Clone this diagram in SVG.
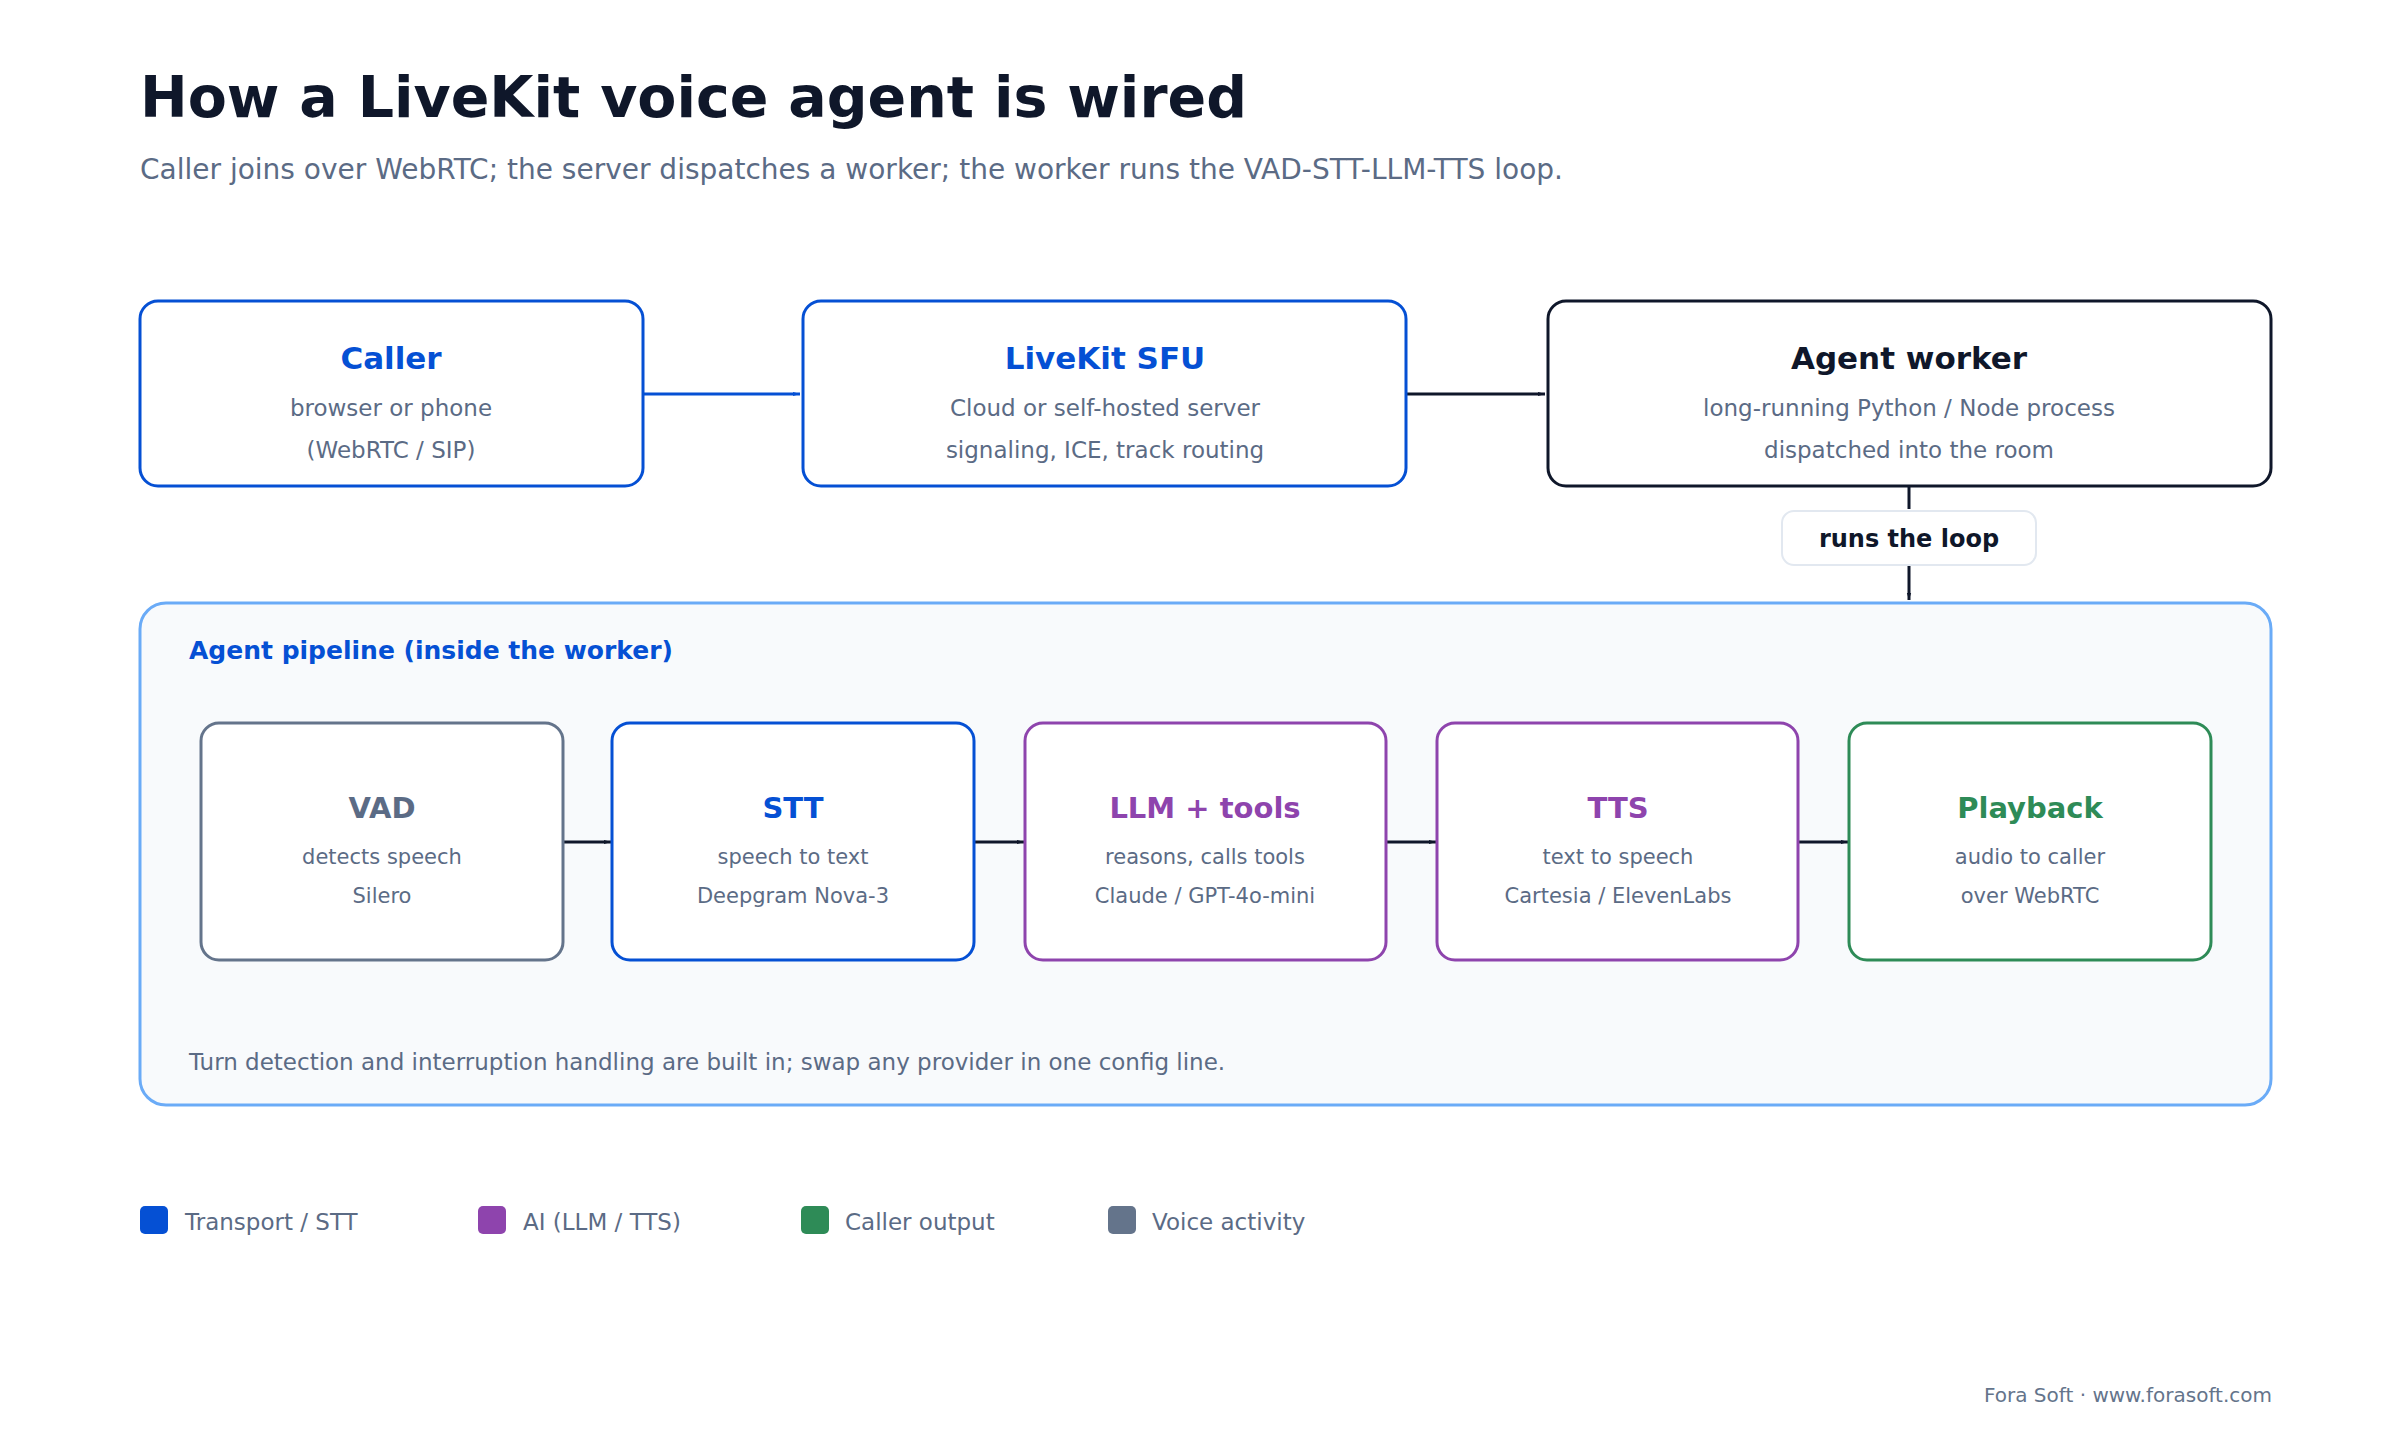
<svg xmlns="http://www.w3.org/2000/svg" width="2400" height="1440" viewBox="0 0 2400 1440">
<style>
text{font-family:"DejaVu Sans","Liberation Sans",sans-serif}
.t{font-weight:bold;font-size:31px;text-anchor:middle}
.s{font-size:23px;fill:#5b6b85;text-anchor:middle}
.pt{font-weight:bold;font-size:29px;text-anchor:middle}
.ps{font-size:21px;fill:#5b6b85;text-anchor:middle}
.box{fill:#fff;stroke-width:3}
.lg{font-size:23px;fill:#5b6b85}
</style>
<defs>
<marker id="ad" viewBox="0 0 10 10" refX="10" refY="5" markerWidth="7" markerHeight="7" orient="auto" markerUnits="userSpaceOnUse"><path d="M0,2 L10,5 L0,8z" fill="#0f172a"/></marker>
<marker id="ab" viewBox="0 0 10 10" refX="10" refY="5" markerWidth="7" markerHeight="7" orient="auto" markerUnits="userSpaceOnUse"><path d="M0,2 L10,5 L0,8z" fill="#0550d4"/></marker>
</defs>
<rect width="2400" height="1440" fill="#fff"/>
<text x="140" y="117" font-size="57" font-weight="bold" fill="#0f172a">How a LiveKit voice agent is wired</text>
<text x="140" y="179" font-size="28" fill="#5b6b85">Caller joins over WebRTC; the server dispatches a worker; the worker runs the VAD-STT-LLM-TTS loop.</text>

<g id="container">
<rect x="140" y="603" width="2131" height="502" rx="26" fill="#f8fafc" stroke="#6aabf7" stroke-width="3"/>
<text x="189" y="659" font-size="25" font-weight="bold" fill="#0550d4">Agent pipeline (inside the worker)</text>
<text x="189" y="1070" font-size="23" fill="#5b6b85">Turn detection and interruption handling are built in; swap any provider in one config line.</text>
</g>

<g id="connectors" fill="none" stroke-width="3">
<line x1="643" y1="394" x2="800" y2="394" stroke="#0550d4" marker-end="url(#ab)"/>
<line x1="1406" y1="394" x2="1545" y2="394" stroke="#0f172a" marker-end="url(#ad)"/>
<line x1="1909" y1="486" x2="1909" y2="509" stroke="#0f172a"/>
<line x1="1909" y1="563" x2="1909" y2="600" stroke="#0f172a" marker-end="url(#ad)"/>
<line x1="563" y1="842" x2="611" y2="842" stroke="#0f172a" marker-end="url(#ad)"/>
<line x1="974" y1="842" x2="1024" y2="842" stroke="#0f172a" marker-end="url(#ad)"/>
<line x1="1386" y1="842" x2="1436" y2="842" stroke="#0f172a" marker-end="url(#ad)"/>
<line x1="1798" y1="842" x2="1848" y2="842" stroke="#0f172a" marker-end="url(#ad)"/>
</g>

<g id="runs-label">
<rect x="1782" y="511" width="254" height="54" rx="12" fill="#fff" stroke="#e2e8f0" stroke-width="2"/>
<text x="1909" y="547" font-size="24" font-weight="bold" fill="#0f172a" text-anchor="middle">runs the loop</text>
</g>

<g id="caller">
<rect class="box" x="140" y="301" width="503" height="185" rx="18" stroke="#0550d4"/>
<text class="t" x="391" y="369" fill="#0550d4">Caller</text>
<text class="s" x="391" y="416">browser or phone</text>
<text class="s" x="391" y="458">(WebRTC / SIP)</text>
</g>
<g id="sfu">
<rect class="box" x="803" y="301" width="603" height="185" rx="18" stroke="#0550d4"/>
<text class="t" x="1105" y="369" fill="#0550d4">LiveKit SFU</text>
<text class="s" x="1105" y="416">Cloud or self-hosted server</text>
<text class="s" x="1105" y="458">signaling, ICE, track routing</text>
</g>
<g id="agent">
<rect class="box" x="1548" y="301" width="723" height="185" rx="18" stroke="#0f172a"/>
<text class="t" x="1909" y="369" fill="#0f172a">Agent worker</text>
<text class="s" x="1909" y="416">long-running Python / Node process</text>
<text class="s" x="1909" y="458">dispatched into the room</text>
</g>

<g id="vad">
<rect class="box" x="201" y="723" width="362" height="237" rx="18" stroke="#64748b"/>
<text class="pt" x="382" y="818" fill="#5b6b85">VAD</text>
<text class="ps" x="382" y="864">detects speech</text>
<text class="ps" x="382" y="903">Silero</text>
</g>
<g id="stt">
<rect class="box" x="612" y="723" width="362" height="237" rx="18" stroke="#0550d4"/>
<text class="pt" x="793" y="818" fill="#0550d4">STT</text>
<text class="ps" x="793" y="864">speech to text</text>
<text class="ps" x="793" y="903">Deepgram Nova-3</text>
</g>
<g id="llm">
<rect class="box" x="1025" y="723" width="361" height="237" rx="18" stroke="#8e44ad"/>
<text class="pt" x="1205" y="818" fill="#8e44ad">LLM + tools</text>
<text class="ps" x="1205" y="864">reasons, calls tools</text>
<text class="ps" x="1205" y="903">Claude / GPT-4o-mini</text>
</g>
<g id="tts">
<rect class="box" x="1437" y="723" width="361" height="237" rx="18" stroke="#8e44ad"/>
<text class="pt" x="1618" y="818" fill="#8e44ad">TTS</text>
<text class="ps" x="1618" y="864">text to speech</text>
<text class="ps" x="1618" y="903">Cartesia / ElevenLabs</text>
</g>
<g id="playback">
<rect class="box" x="1849" y="723" width="362" height="237" rx="18" stroke="#2e8b57"/>
<text class="pt" x="2030" y="818" fill="#2e8b57">Playback</text>
<text class="ps" x="2030" y="864">audio to caller</text>
<text class="ps" x="2030" y="903">over WebRTC</text>
</g>

<g id="legend">
<rect x="140" y="1206" width="28" height="28" rx="5" fill="#0550d4"/>
<text class="lg" x="185" y="1230">Transport / STT</text>
<rect x="478" y="1206" width="28" height="28" rx="5" fill="#8e44ad"/>
<text class="lg" x="523" y="1230">AI (LLM / TTS)</text>
<rect x="801" y="1206" width="28" height="28" rx="5" fill="#2e8b57"/>
<text class="lg" x="845" y="1230">Caller output</text>
<rect x="1108" y="1206" width="28" height="28" rx="5" fill="#64748b"/>
<text class="lg" x="1152" y="1230">Voice activity</text>
</g>
<text x="2272" y="1402" font-size="20" fill="#64748b" text-anchor="end">Fora Soft · www.forasoft.com</text>
</svg>
